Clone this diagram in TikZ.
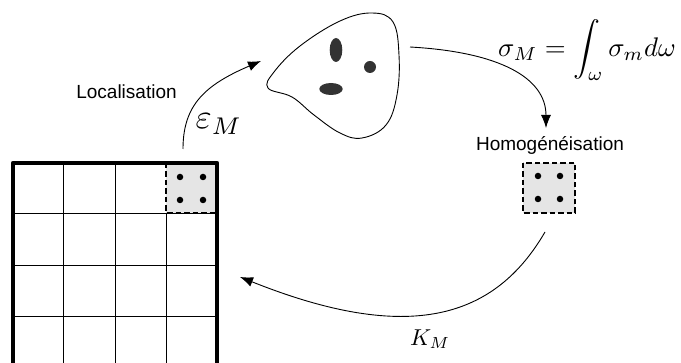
\documentclass[tikz,border=0pt]{standalone}
\usepackage{amsmath}
\usepackage{fontspec}
\setmainfont{Liberation Sans}
\usetikzlibrary{arrows.meta}
\begin{document}
\begin{tikzpicture}[x=1pt,y=-1pt,
  thin line/.style={line width=0.9pt},
  arr/.style={line width=0.9pt,-{Latex[length=13pt,width=10pt]}},
  lbl/.style={font=\fontsize{19}{22}\selectfont,inner sep=0pt},
  mth/.style={font=\fontsize{10}{12}\selectfont,inner sep=0pt,scale=2.3},
  blobpart/.style={fill=black!80,draw=none},
  dashbox/.style={fill=black!10,draw=black,line width=2.8pt,dash pattern=on 5.5pt off 3pt},
  dot/.style={circle,fill=black,inner sep=0pt,minimum size=6.5pt}
]
\useasboundingbox (0,0) rectangle (681,363);
% grid
\foreach \x in {63,115,166} \draw[thin line] (\x,163) -- (\x,370);
\foreach \y in {213,265,316} \draw[thin line] (13,\y) -- (217,\y);
% highlighted cell
\draw[dashbox] (166,163) rectangle (217,213);
\node[dot] (g1) at (180,177) {};
\node[dot] (g2) at (203,177) {};
\node[dot] (g3) at (180,200) {};
\node[dot] (g4) at (203,200) {};
% thick border
\draw[line width=4.5pt,line join=round] (13,372) -- (13,163) -- (217,163) -- (217,372);
% blob
\draw[thin line] plot[smooth cycle,tension=0.65] coordinates {(268,88) (292,97) (314,115) (340,133) (362,138) (386,125) (397,95) (399,55) (393,22) (372,13) (340,21) (300,46) (274,72)};
\fill[blobpart] (336,50) ellipse [x radius=6.3,y radius=12];
\fill[blobpart] (370,67) circle [radius=6];
\fill[blobpart] (331,89) ellipse [x radius=11.7,y radius=6];
% homogenised box
\draw[dashbox] (523,163) rectangle (575,213);
\node[dot] (h1) at (538,176) {};
\node[dot] (h2) at (560,176) {};
\node[dot] (h3) at (538,199) {};
\node[dot] (h4) at (560,199) {};
% labels
\node[lbl] (loc) at (126.5,92) {Localisation};
\node[lbl] (hom) at (550,145) {Homogénéisation};
\node[mth,scale=1.5] (eps) at (219,124) {$\varepsilon_M$};
\node[mth,scale=1.17] (sig) at (587,50) {$\displaystyle\sigma_M=\int_\omega\sigma_m d\omega$};
\node[mth] (km) at (430,339) {$K_M$};
% connector end points
\coordinate (a1s) at (183,149);
\coordinate (a1e) at (261,61);
\coordinate (a2s) at (410,47);
\coordinate (a2e) at (546,128);
\coordinate (a3s) at (545,232);
\coordinate (a3e) at (240,277);
\draw[arr] (a1s) .. controls (183,105) and (205,85) .. (a1e);
\draw[arr] (a2s) .. controls (500,52) and (546,78) .. (a2e);
\draw[arr] (a3s) .. controls (495,318) and (410,345) .. (a3e);
\end{tikzpicture}
\end{document}
